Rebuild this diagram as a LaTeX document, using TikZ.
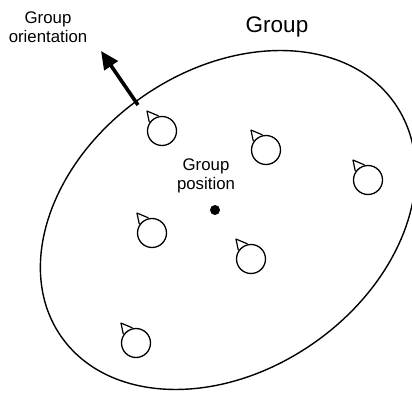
\documentclass[tikz,border=0pt]{standalone}
\usepackage{fontspec}
\setmainfont{Liberation Sans}
\usetikzlibrary{arrows.meta,calc}
\tikzset{
  agent/.style={circle,draw,line width=1.3pt,minimum size=29pt,inner sep=0pt},
  lbl/.style={align=center,font=\fontsize{16.8}{18.5}\selectfont,inner sep=0pt},
  big/.style={font=\fontsize{22.5}{24}\selectfont,inner sep=0pt},
  boundary/.style={line width=1.4pt},
  orient/.style={line width=3.6pt,-{Triangle[length=18pt,width=16pt]}}
}
\begin{document}
\begin{tikzpicture}[x=1pt,y=1pt]
\useasboundingbox (0,0) rectangle (412,394);
\draw[boundary] (228,174) ellipse [x radius=203.5pt, y radius=150pt, rotate=35];
\node[big] (title) at (277,367) {Group};
\node[lbl] (olbl) at (48,367) {Group\\orientation};
\coordinate (obase) at (138,289);
\coordinate (otip) at (101,343);
\draw[orient] (obase) -- (otip);
\node[lbl] (plbl) at (206,218) {Group\\position};
\node[circle,fill,inner sep=0pt,minimum size=10pt] (gp) at (215,184) {};
\foreach \n/\p in {a1/{(162,263)},a2/{(266,244)},a3/{(368,214)},a4/{(152,161)},a5/{(251,135)},a6/{(136,51)}}{
  \node[agent] (\n) at \p {};
  \draw[line width=1.2pt,line join=round] ($(\n.center)+(103:15.5)$) -- ($(\n.center)+(127:25)$) -- ($(\n.center)+(145:15.5)$);
}
\end{tikzpicture}
\end{document}
